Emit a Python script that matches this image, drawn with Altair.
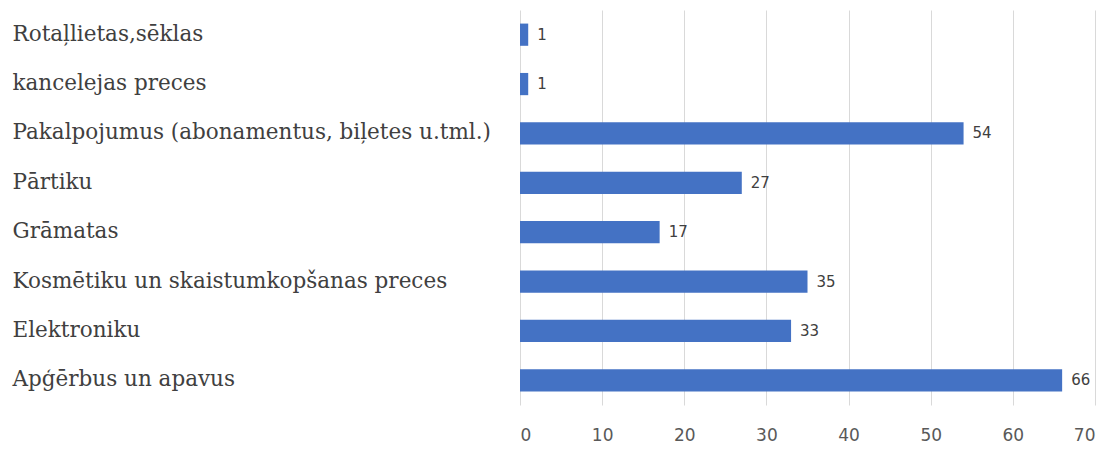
import altair as alt
import pandas as pd

categories = [
    "Rotaļlietas,sēklas",
    "kancelejas preces",
    "Pakalpojumus (abonamentus, biļetes u.tml.)",
    "Pārtiku",
    "Grāmatas",
    "Kosmētiku un skaistumkopšanas preces",
    "Elektroniku",
    "Apģērbus un apavus",
]
values = [1, 1, 54, 27, 17, 35, 33, 66]

df = pd.DataFrame({"cat": categories, "val": values})

y = alt.Y(
    "cat:N",
    sort=categories,
    scale=alt.Scale(paddingInner=0.55, paddingOuter=0.275),
    axis=alt.Axis(
        title=None,
        labelAlign="left",
        labelPadding=508,
        labelFont="DejaVu Serif",
        labelFontSize=21.5,
        labelColor="#404040",
        labelLimit=0,
        ticks=False,
        domain=False,
        grid=False,
    ),
)
x = alt.X(
    "val:Q",
    scale=alt.Scale(domain=[0, 70], nice=False),
    axis=alt.Axis(
        title=None,
        values=[0, 10, 20, 30, 40, 50, 60, 70],
        labelFont="DejaVu Sans",
        labelFontSize=17,
        labelColor="#595959",
        labelPadding=22,
        ticks=False,
        domain=False,
        grid=True,
        gridColor="#d9d9d9",
        gridWidth=1,
    ),
)

bars = alt.Chart(df).mark_bar(color="#4472C4").encode(x=x, y=y)
text = alt.Chart(df).mark_text(
    align="left", dx=9, font="DejaVu Sans", fontSize=15, color="#404040"
).encode(x=alt.X("val:Q"), y=alt.Y("cat:N", sort=categories), text="val:Q")

chart = (
    (bars + text)
    .properties(
        width=575,
        height=395,
        autosize=alt.AutoSizeParams(type="none"),
        padding={"left": 512, "top": 2, "right": 10, "bottom": 40},
    )
    .configure_view(stroke=None)
)

chart.save("out.html", embed_options={"renderer": "svg", "actions": False})
